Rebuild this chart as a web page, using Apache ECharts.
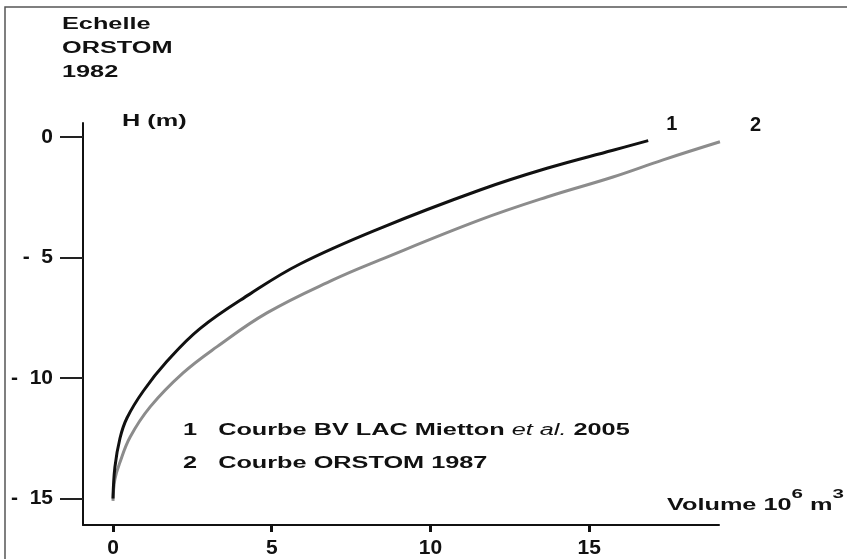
<!DOCTYPE html>
<html>
<head>
<meta charset="utf-8">
<script src="https://cdn.jsdelivr.net/npm/echarts@6/dist/echarts.min.js"></script>
<style>
  html, body { margin: 0; padding: 0; background: #fff; }
  #chart { width: 847px; height: 559px; }
</style>
</head>
<body>
<div id="chart"></div>
<script>
// Données : volume (10^6 m3) et cote H (m)
var volume1 = [0, 0.06, 0.22, 0.44, 0.95, 1.70, 2.74, 4.32, 5.89, 8.41, 11.56, 13.67, 15.75, 16.86];
var hauteur1 = [-15.0, -13.7, -12.5, -11.66, -10.55, -9.31, -7.95, -6.51, -5.27, -3.79, -2.2, -1.3, -0.55, -0.15];

var volume2 = [0, 0.06, 0.22, 0.54, 1.17, 2.2, 3.28, 4.85, 6.93, 8.41, 11.56, 13.67, 15.75, 17.33, 19.12];
var hauteur2 = [-15.1, -14.2, -13.5, -12.45, -11.2, -9.8, -8.7, -7.3, -5.93, -5.1, -3.44, -2.49, -1.66, -0.95, -0.2];

var xTicks = [0, 5, 10, 15];
var yTicks = [0, -5, -10, -15];

function pairs(xs, ys) {
    return xs.map(function (x, i) { return [x, ys[i]]; });
}

var font = 'Liberation Sans, Arial, sans-serif';
var stretch = 1.58; // le texte de la figure est étiré horizontalement

var chart = echarts.init(document.getElementById('chart'));

var option = {
    animation: false,
    backgroundColor: '#fff',
    grid: { left: 83, top: 123, right: 128, bottom: 34 },
    xAxis: {
        type: 'value',
        min: -0.945,
        max: 19.09,
        splitLine: { show: false },
        axisLine: { onZero: false, lineStyle: { color: '#111', width: 2 } },
        axisTick: {
            customValues: xTicks,
            length: 7,
            lineStyle: { color: '#111', width: 3 }
        },
        axisLabel: {
            customValues: xTicks,
            margin: 13,
            color: '#111',
            fontFamily: font,
            fontWeight: 'bold',
            fontSize: 21
        }
    },
    yAxis: {
        type: 'value',
        min: -16.1,
        max: 0.58,
        splitLine: { show: false },
        axisLine: { onZero: false, lineStyle: { color: '#111', width: 2 } },
        axisTick: {
            customValues: yTicks,
            length: 23,
            lineStyle: { color: '#222', width: 2 }
        },
        axisLabel: {
            customValues: yTicks,
            margin: 30,
            color: '#111',
            fontFamily: font,
            fontWeight: 'bold',
            fontSize: 21,
            formatter: function (v) { return v === 0 ? '0' : '-  ' + Math.abs(v); }
        }
    },
    series: [
        {
            name: '2',
            type: 'line',
            smooth: 0.4,
            symbol: 'none',
            data: pairs(volume2, hauteur2),
            lineStyle: { color: '#8c8c8c', width: 3 },
            endLabel: {
                show: true,
                formatter: '2',
                offset: [22, -16],
                color: '#111',
                fontFamily: font,
                fontWeight: 'bold',
                fontSize: 20
            }
        },
        {
            name: '1',
            type: 'line',
            smooth: 0.4,
            symbol: 'none',
            data: pairs(volume1, hauteur1),
            lineStyle: { color: '#111', width: 3 },
            endLabel: {
                show: true,
                formatter: '1',
                offset: [10, -16],
                color: '#111',
                fontFamily: font,
                fontWeight: 'bold',
                fontSize: 20
            }
        }
    ],
    graphic: [
        {
            type: 'rect',
            shape: { x: 5, y: 7, width: 900, height: 600 },
            style: { fill: 'none', stroke: '#555', lineWidth: 1.5 },
            silent: true
        },
        {
            type: 'text', x: 62, y: 13, scaleX: stretch,
            style: { text: 'Echelle\nORSTOM\n1982', lineHeight: 24, font: 'bold 16px ' + font, fill: '#111', verticalAlign: 'top' }
        },
        {
            type: 'text', x: 122, y: 114, scaleX: stretch,
            style: { text: 'H (m)', font: 'bold 16px ' + font, fill: '#111', verticalAlign: 'top' }
        },
        {
            type: 'text', x: 183, y: 414, scaleX: stretch,
            style: {
                text: '{b|1   Courbe BV LAC Mietton }{i|et al.}{b| 2005}\n{b|2   Courbe ORSTOM 1987}',
                verticalAlign: 'top',
                rich: {
                    b: { font: 'bold 16px ' + font, fill: '#111', lineHeight: 33 },
                    i: { font: 'italic 16px ' + font, fill: '#111', lineHeight: 33 }
                }
            }
        },
        {
            type: 'text', x: 667, y: 488, scaleX: stretch,
            style: {
                text: '{b|Volume 10}{s|6}{b| m}{s|3}',
                verticalAlign: 'top',
                rich: {
                    b: { font: 'bold 16px ' + font, fill: '#111', verticalAlign: 'bottom', lineHeight: 26 },
                    s: { font: 'bold 13px ' + font, fill: '#111', verticalAlign: 'top', lineHeight: 26, padding: [0, 0, 12, 0] }
                }
            }
        }
    ]
};

chart.setOption(option);
</script>
</body>
</html>
